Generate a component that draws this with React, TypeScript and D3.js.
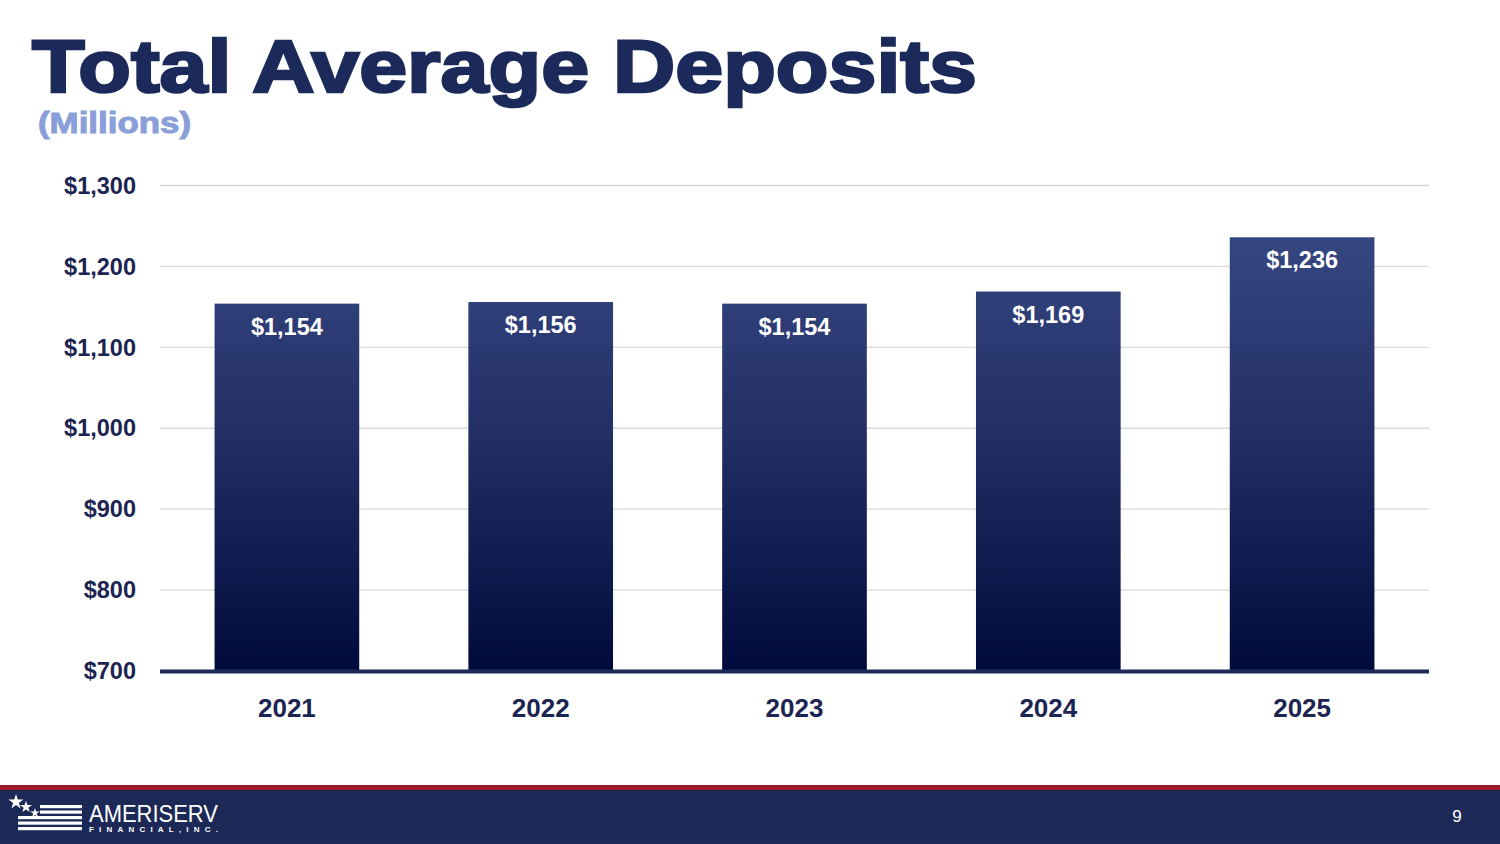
import { useEffect, useRef } from 'react';
import * as d3 from 'd3';

const years = ['2021', '2022', '2023', '2024', '2025'];
const deposits = [1154, 1156, 1154, 1169, 1236];
const yTicks = [700, 800, 900, 1000, 1100, 1200, 1300];

const W = 1500;
const H = 844;
const NAVY = '#1b2a5a';
const LABEL = '#1c2451';

export default function App() {
  const ref = useRef<SVGSVGElement>(null);

  useEffect(() => {
    if (!ref.current) return;
    const svg = d3.select(ref.current);
    svg.selectAll('*').remove();

    const font = 'Liberation Sans, Arial, sans-serif';

    // background
    svg.append('rect').attr('width', W).attr('height', H).attr('fill', '#ffffff');

    const defs = svg.append('defs');
    const grad = defs.append('linearGradient')
      .attr('id', 'barGrad')
      .attr('gradientUnits', 'userSpaceOnUse')
      .attr('x1', 0).attr('x2', 0)
      .attr('y1', 237).attr('y2', 671);
    grad.append('stop').attr('offset', '0%').attr('stop-color', '#354781');
    grad.append('stop').attr('offset', '45%').attr('stop-color', '#232f65');
    grad.append('stop').attr('offset', '100%').attr('stop-color', '#000a3c');

    // title
    svg.append('text')
      .attr('x', 32).attr('y', 92)
      .attr('font-family', font)
      .attr('font-weight', 'bold')
      .attr('font-size', 74)
      .attr('fill', NAVY)
      .attr('stroke', NAVY)
      .attr('stroke-width', 2.6)
      .attr('textLength', 945)
      .attr('lengthAdjust', 'spacingAndGlyphs')
      .text('Total Average Deposits');

    svg.append('text')
      .attr('x', 38).attr('y', 133)
      .attr('font-family', font)
      .attr('font-weight', 'bold')
      .attr('font-size', 30)
      .attr('fill', '#8a9fd9')
      .attr('stroke', '#8a9fd9')
      .attr('stroke-width', 1)
      .attr('textLength', 153)
      .attr('lengthAdjust', 'spacingAndGlyphs')
      .text('(Millions)');

    // chart
    const margin = { left: 160, right: 71 };
    const innerW = W - margin.left - margin.right;
    const g = svg.append('g').attr('transform', `translate(${margin.left},0)`);

    const x = d3.scaleBand<string>().domain(years).range([0, innerW]).paddingInner(0.43).paddingOuter(0.215);
    const y = d3.scaleLinear().domain([700, 1300]).range([671, 185.5]);

    // gridlines
    g.append('g')
      .selectAll('line')
      .data(yTicks.slice(1))
      .join('line')
      .attr('x1', 0).attr('x2', innerW)
      .attr('y1', d => y(d)).attr('y2', d => y(d))
      .attr('stroke', '#d9d9d9')
      .attr('stroke-width', 1.3);

    // y tick labels
    g.append('g')
      .selectAll('text')
      .data(yTicks)
      .join('text')
      .attr('x', -24)
      .attr('y', d => y(d))
      .attr('dy', '0.35em')
      .attr('text-anchor', 'end')
      .attr('font-family', font)
      .attr('font-weight', 'bold')
      .attr('font-size', 23.5)
      .attr('fill', LABEL)
      .text(d => d3.format('$,')(d));

    // bars
    g.append('g')
      .selectAll('rect')
      .data(deposits)
      .join('rect')
      .attr('x', (_, i) => x(years[i]) as number)
      .attr('width', x.bandwidth())
      .attr('y', d => y(d))
      .attr('height', d => y(700) - y(d))
      .attr('fill', 'url(#barGrad)');

    // value labels
    g.append('g')
      .selectAll('text')
      .data(deposits)
      .join('text')
      .attr('x', (_, i) => (x(years[i]) as number) + x.bandwidth() / 2)
      .attr('y', d => y(d) + 31)
      .attr('text-anchor', 'middle')
      .attr('font-family', font)
      .attr('font-weight', 'bold')
      .attr('font-size', 23.5)
      .attr('fill', '#ffffff')
      .text(d => d3.format('$,')(d));

    // x axis line
    g.append('line')
      .attr('x1', 0).attr('x2', innerW)
      .attr('y1', y(700) + 0.5).attr('y2', y(700) + 0.5)
      .attr('stroke', '#1e2a58')
      .attr('stroke-width', 4);

    // x labels
    g.append('g')
      .selectAll('text')
      .data(years)
      .join('text')
      .attr('x', d => (x(d) as number) + x.bandwidth() / 2)
      .attr('y', 717)
      .attr('text-anchor', 'middle')
      .attr('font-family', font)
      .attr('font-weight', 'bold')
      .attr('font-size', 26)
      .attr('fill', LABEL)
      .text(d => d);

    // footer
    svg.append('rect').attr('x', 0).attr('y', 785).attr('width', W).attr('height', 6).attr('fill', '#9c1a2b');
    svg.append('rect').attr('x', 0).attr('y', 790).attr('width', W).attr('height', 54).attr('fill', '#1c2957');

    svg.append('text')
      .attr('x', 1457).attr('y', 822)
      .attr('text-anchor', 'middle')
      .attr('font-family', font)
      .attr('font-size', 17)
      .attr('fill', '#ffffff')
      .text('9');

    // logo
    const logo = svg.append('g');
    const star = d3.symbol().type(d3.symbolStar);
    [[16, 802, 70], [26, 807, 45], [35, 813, 28]].forEach(([sx, sy, size]) => {
      logo.append('path')
        .attr('d', star.size(size)())
        .attr('transform', `translate(${sx},${sy})`)
        .attr('fill', '#ffffff');
    });
    [
      [40, 805], [40, 810.5], [18, 816], [18, 821.5], [18, 827],
    ].forEach(([sx, sy]) => {
      logo.append('rect')
        .attr('x', sx).attr('y', sy)
        .attr('width', 82 - sx).attr('height', 3.2)
        .attr('fill', '#ffffff');
    });
    logo.append('text')
      .attr('x', 89).attr('y', 822)
      .attr('font-family', font)
      .attr('font-size', 24)
      .attr('fill', '#ffffff')
      .attr('textLength', 129)
      .attr('lengthAdjust', 'spacingAndGlyphs')
      .text('AMERISERV');
    logo.append('text')
      .attr('x', 89).attr('y', 832)
      .attr('font-family', font)
      .attr('font-weight', 'bold')
      .attr('font-size', 8)
      .attr('fill', '#ffffff')
      .attr('textLength', 129)
      .attr('lengthAdjust', 'spacing')
      .text('FINANCIAL,INC.');
  }, []);

  return (
    <svg
      ref={ref}
      width={W}
      height={H}
      viewBox={`0 0 ${W} ${H}`}
      style={{ position: 'absolute', left: 0, top: 0, display: 'block' }}
    />
  );
}
